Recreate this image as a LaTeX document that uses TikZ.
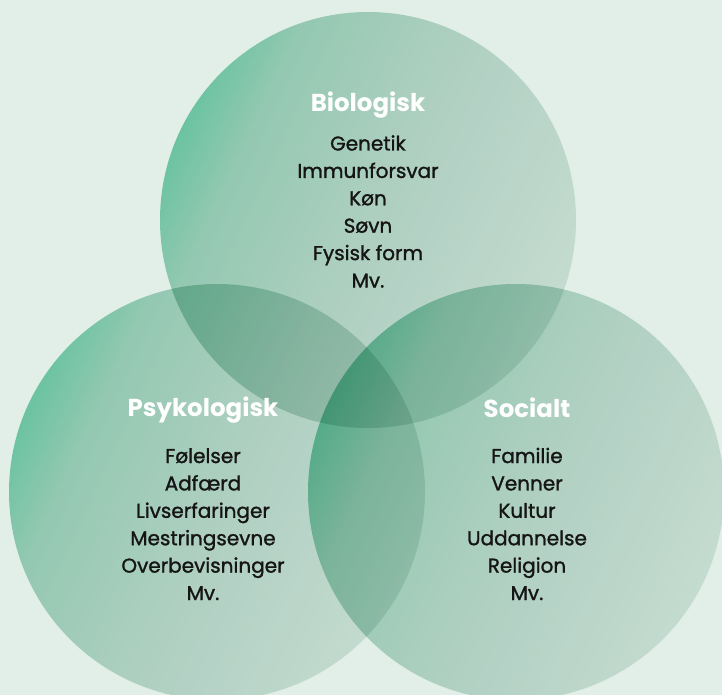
\documentclass[tikz,border=0pt]{standalone}
\usepackage{fontspec}
\setmainfont{Poppins}
\newfontfamily\itemfont{Poppins}[FakeBold=1.3]
\newfontfamily\headfont{Poppins}
\definecolor{bgGreen}{HTML}{E2EFE8}
\definecolor{circDark}{HTML}{79D1B2}
\definecolor{circMidA}{HTML}{A8D6C4}
\definecolor{circMidB}{HTML}{C4DDD4}
\definecolor{circPale}{HTML}{DEEAE5}
\definecolor{itemText}{HTML}{151515}
\pgfdeclarehorizontalshading{circGrad}{100bp}{color(0bp)=(circDark); color(25bp)=(circDark); color(33bp)=(circMidA); color(50bp)=(circMidB); color(75bp)=(circPale); color(100bp)=(circPale)}
\tikzset{
    objCircle/.style={shading=circGrad, shading angle=-25, blend mode=multiply},
    objHeading/.style={text=white, font=\headfont\bfseries\fontsize{24.5}{28}\selectfont, text height=15pt, text depth=5pt, inner sep=0pt},
    objItem/.style={text=itemText, font=\itemfont\fontsize{20}{24}\selectfont, text height=14pt, text depth=4pt, inner sep=0pt}
}
\begin{document}
\begin{tikzpicture}[x=1pt, y=1pt, node distance=27.4pt]

    \useasboundingbox (0,0) rectangle (722,-695);
    \fill [bgGreen] (0,0) rectangle (722,-695);

    \shade [objCircle] (368,-220) circle (208pt);
    \shade [objCircle] (217,-492) circle (208pt);
    \shade [objCircle] (516,-492) circle (208pt);

    \node (100) [objHeading, anchor=base] at (368,-111.5) {Biologisk};
    \node (101) [objItem, node distance=39pt, below of=100] {Genetik};
    \node (102) [objItem, below of=101] {Immunforsvar};
    \node (103) [objItem, below of=102] {Køn};
    \node (104) [objItem, below of=103] {Søvn};
    \node (105) [objItem, below of=104] {Fysisk form};
    \node (106) [objItem, below of=105] {Mv.};

    \node (200) [objHeading, anchor=base] at (203,-416.5) {Psykologisk};
    \node (201) [objItem, node distance=46.5pt, below of=200] {Følelser};
    \node (202) [objItem, below of=201] {Adfærd};
    \node (203) [objItem, below of=202] {Livserfaringer};
    \node (204) [objItem, below of=203] {Mestringsevne};
    \node (205) [objItem, below of=204] {Overbevisninger};
    \node (206) [objItem, below of=205] {Mv.};

    \node (300) [objHeading, anchor=base] at (527,-417) {Socialt};
    \node (301) [objItem, node distance=46pt, below of=300] {Familie};
    \node (302) [objItem, below of=301] {Venner};
    \node (303) [objItem, below of=302] {Kultur};
    \node (304) [objItem, below of=303] {Uddannelse};
    \node (305) [objItem, below of=304] {Religion};
    \node (306) [objItem, below of=305] {Mv.};

\end{tikzpicture}
\end{document}
